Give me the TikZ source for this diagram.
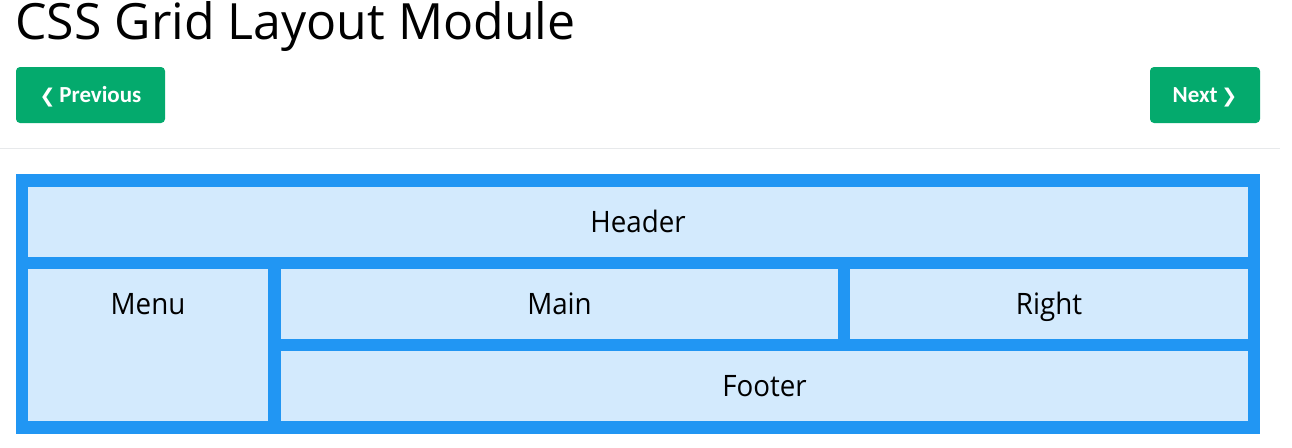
\documentclass[tikz,border=0pt]{standalone}
\usepackage{fontspec}
\setmainfont{Open Sans}
\newfontfamily\cellfont[FakeStretch=0.94]{Open Sans}
\newfontfamily\btnfont{Carlito}
\newfontfamily\chevfont{DejaVu Sans}
\usepackage{xcolor}
\usepackage{tikz}
\usetikzlibrary{positioning, calc}

\definecolor{gridblue}{HTML}{2196F3}
\definecolor{cellblue}{HTML}{D3EAFD}
\definecolor{btngreen}{HTML}{04AA6D}
\definecolor{rulegray}{HTML}{E7E9EB}

\begin{document}
\begin{tikzpicture}[x=1pt, y=-1pt,
    cell/.style={fill=cellblue, draw=none, inner sep=0pt, text height=21pt, text depth=0pt,
      font=\cellfont\fontsize{29.5}{34}\selectfont},
    btn/.style={fill=btngreen, rounded corners=4pt, text=white, minimum height=56pt, inner sep=0pt,
      text height=15pt, text depth=0pt, font=\btnfont\bfseries\fontsize{23}{26}\selectfont},
    chev/.style={font=\chevfont\bfseries\fontsize{20}{22}\selectfont}]
    \useasboundingbox (0,0) rectangle (1292,447);

    % page title
    \node[anchor=base west, inner sep=0pt, font=\fontsize{50}{56}\selectfont] (title) at (15,39) {CSS Grid Layout Module};

    % navigation buttons
    \node[btn, minimum width=149pt] (prev) at (90.5,95) {{\chevfont\bfseries\fontsize{19}{22}\selectfont ❮}\,Previous};
    \node[btn, minimum width=110pt] (next) at (1205,95) {Next\,{\chevfont\bfseries\fontsize{19}{22}\selectfont ❯}};
    \draw[rulegray, line width=1pt] (0,148) -- (1280,148);

    % grid container
    \node[fill=gridblue, minimum width=1244pt, minimum height=260pt, inner sep=0pt] (grid) at (638,304) {};

    % grid items
    \node[cell, minimum width=1220pt, minimum height=70pt] (header) at (638,222) {Header};
    \node[cell, minimum width=240pt, minimum height=152pt] (menu) at (148,345) {};
    \node[cell, fill=none] (menutext) at ([yshift=-35pt]menu.north) {Menu};
    \node[cell, minimum width=557pt, minimum height=70pt] (main) at (559.5,304) {Main};
    \node[cell, minimum width=398pt, minimum height=70pt] (right) at (1049,304) {Right};
    \node[cell, minimum width=967pt, minimum height=70pt] (footer) at (764.5,386) {Footer};

  \end{tikzpicture}
\end{document}
